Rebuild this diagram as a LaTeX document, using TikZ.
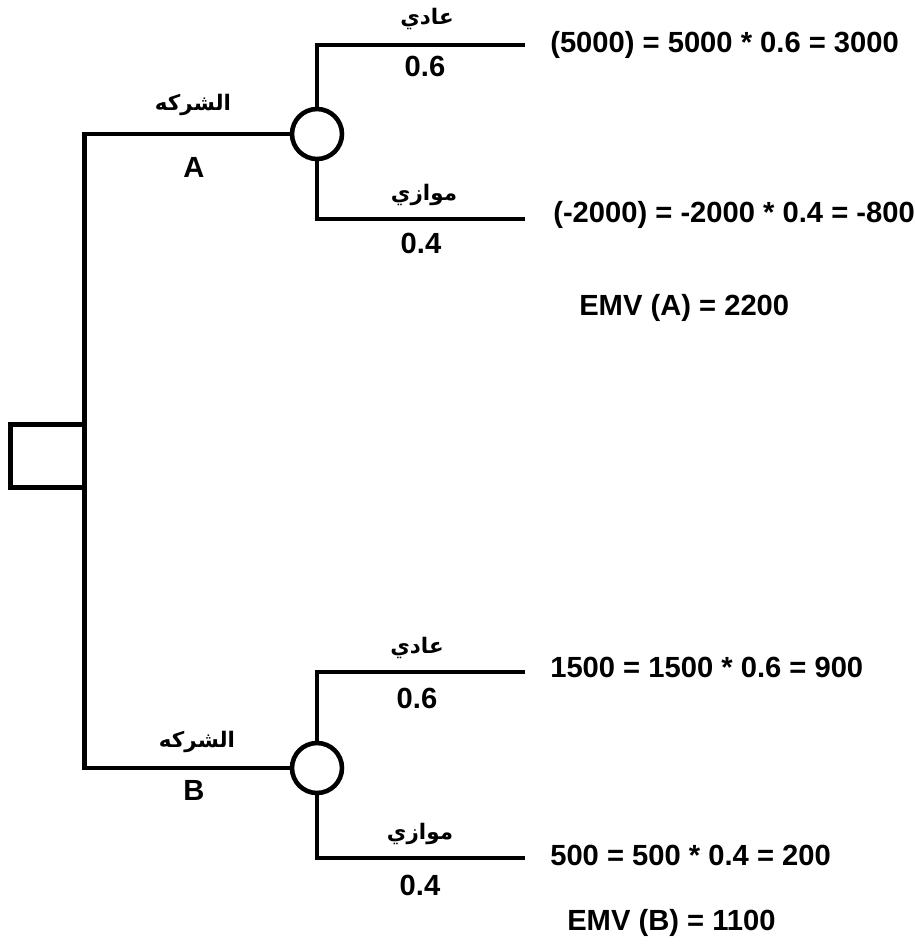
\documentclass[tikz,border=0pt]{standalone}
\usepackage{fontspec}
\setmainfont{Liberation Sans}
\newfontfamily\arabicfont[Script=Arabic]{DejaVu Sans}
\TeXXeTstate=1
\begin{document}
\begin{tikzpicture}[x=0.02cm,y=-0.02cm,line width=2.6pt,
  lbl/.style={font=\bfseries\fontsize{16.6}{18}\selectfont,inner sep=0pt},
  ar/.style={font=\arabicfont\bfseries\fontsize{12.2}{14}\selectfont,inner sep=0pt},
  decision/.style={draw,rectangle,minimum width=1.48cm,minimum height=1.27cm,inner sep=0pt,outer sep=0pt},
  chance/.style={draw,circle,minimum size=1cm,inner sep=0pt,outer sep=0pt}]
\useasboundingbox (0,0) rectangle (915,944);
% nodes
\node[decision] (dec) at (47.5,456) {};
\node[chance] (cA) at (317,134) {};
\node[chance] (cB) at (317,768) {};
\coordinate (eA1) at (525,45);
\coordinate (eA2) at (525,219);
\coordinate (eB1) at (525,672);
\coordinate (eB2) at (525,858);
% connectors
\draw (dec.north east) |- (cA.west);
\draw (dec.south east) |- (cB.west);
\draw (cA.north) |- (eA1);
\draw (cA.south) |- (eA2);
\draw (cB.north) |- (eB1);
\draw (cB.south) |- (eB2);
% branch labels
\node[ar] (tA) at (193,105) {\beginR الشركه\endR};
\node[lbl] (lA) at (194,167) {A};
\node[ar] (tB) at (197,742) {\beginR الشركه\endR};
\node[lbl] (lB) at (194,790) {B};
\node[ar] (a1) at (427,19) {\beginR عادي\endR};
\node[lbl] (p1) at (425,66) {0.6};
\node[ar] (a2) at (424,195) {\beginR موازي\endR};
\node[lbl] (p2) at (421,243) {0.4};
\node[ar] (b1) at (417,648) {\beginR عادي\endR};
\node[lbl] (q1) at (417,698) {0.6};
\node[ar] (b2) at (420,834) {\beginR موازي\endR};
\node[lbl] (q2) at (420,885) {0.4};
% payoffs
\node[lbl,anchor=base west] (r1) at (548,52) {(5000) = 5000 * 0.6 = 3000};
\node[lbl,anchor=base west] (r2) at (551,222) {(-2000) = -2000 * 0.4 = -800};
\node[lbl,anchor=base west] (emvA) at (577,315) {EMV (A) = 2200};
\node[lbl,anchor=base west] (r3) at (548,677) {1500 = 1500 * 0.6 = 900};
\node[lbl,anchor=base west] (r4) at (548,865) {500 = 500 * 0.4 = 200};
\node[lbl,anchor=base west] (emvB) at (565,930) {EMV (B) = 1100};
\end{tikzpicture}
\end{document}
